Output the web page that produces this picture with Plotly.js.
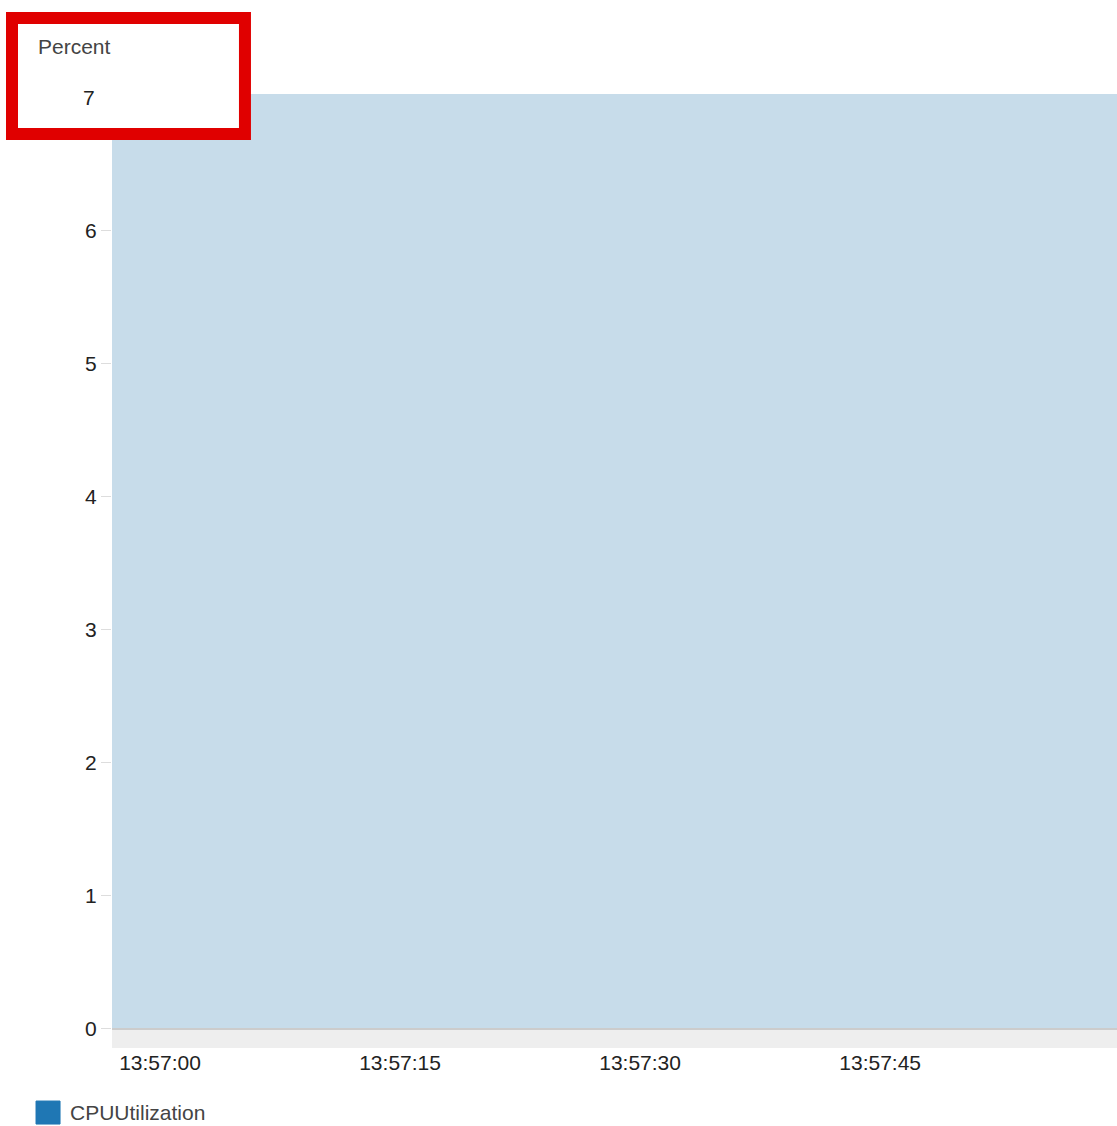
<!DOCTYPE html>
<html>
<head>
<meta charset="utf-8">
<script src="https://cdn.plot.ly/plotly-3.0.1.min.js"></script>
<style>body{margin:0;background:#fff}#plot{width:1117px;height:1126px}</style>
</head>
<body>
<div id="plot"></div>
<script>
const times = ["2024-01-01 13:56:57", "2024-01-01 13:57:00", "2024-01-01 13:58:00"];
const cpuValues = [7.03, 7.03, 7.03];
const yTicks = [0, 1, 2, 3, 4, 5, 6];
const xTicks = ["2024-01-01 13:57:00", "2024-01-01 13:57:15", "2024-01-01 13:57:30", "2024-01-01 13:57:45", "2024-01-01 13:58:00"];
const seriesName = "CPUUtilization";
const unitLabel = "Percent";

const font = {family: "Liberation Sans, Arial, sans-serif", size: 21, color: "#222"};

const area = {
    type: "scatter",
    mode: "lines",
    x: times,
    y: cpuValues,
    fill: "tozeroy",
    fillcolor: "#c7dcea",
    line: {width: 0},
    showlegend: false,
    hoverinfo: "skip"
};

Plotly.newPlot("plot", [area], {
    width: 1117,
    height: 1126,
    margin: {l: 112, r: 0, t: 94, b: 78},
    paper_bgcolor: "#fff",
    plot_bgcolor: "#fff",
    font: font,
    showlegend: false,
    xaxis: {
        type: "date",
        range: ["2024-01-01 13:56:57", "2024-01-01 13:57:59.8"],
        tickvals: xTicks,
        tickformat: "%H:%M:%S",
        showgrid: false,
        zeroline: false,
        ticks: "",
        showline: false,
        tickfont: font
    },
    yaxis: {
        range: [-0.143, 7.03],
        tickvals: yTicks,
        showgrid: false,
        zeroline: false,
        ticks: "outside",
        ticklen: 10,
        tickcolor: "#ddd",
        tickfont: font
    },
    shapes: [
        // gray band under the zero line
        {type: "rect", xref: "paper", yref: "y", x0: 0, x1: 1, y0: -0.143, y1: 0,
         fillcolor: "#eeeeee", line: {width: 0}, layer: "below"},
        {type: "line", xref: "paper", yref: "y", x0: 0, x1: 1, y0: 0, y1: 0,
         line: {color: "#cccccc", width: 2}},
        // red highlight box
        {type: "rect", xref: "paper", yref: "paper", x0: -0.0995, x1: 0.1323, y0: 0.9581, y1: 1.0797,
         fillcolor: "#ffffff", line: {color: "#e00000", width: 12}, layer: "above"},
        // legend swatch
        {type: "rect", xref: "paper", yref: "paper", x0: -0.0756, x1: -0.0517, y0: -0.0797, y1: -0.0556,
         fillcolor: "#1f77b4", line: {color: "#1f77b4", width: 1}}
    ],
    annotations: [
        {xref: "paper", yref: "paper", x: -0.0756, y: 1.0, yshift: 48, xanchor: "left", yanchor: "middle",
         text: unitLabel, showarrow: false, font: {family: font.family, size: 21, color: "#444"}},
        {xref: "paper", yref: "y", x: 0, xshift: -15, y: 7, xanchor: "right", yanchor: "middle",
         text: "7", showarrow: false, font: font},
        {xref: "paper", yref: "paper", x: -0.0438, y: -0.0677, xanchor: "left", yanchor: "middle",
         text: seriesName, showarrow: false, font: {family: font.family, size: 21, color: "#444"}}
    ]
}, {staticPlot: true});
</script>
</body>
</html>
